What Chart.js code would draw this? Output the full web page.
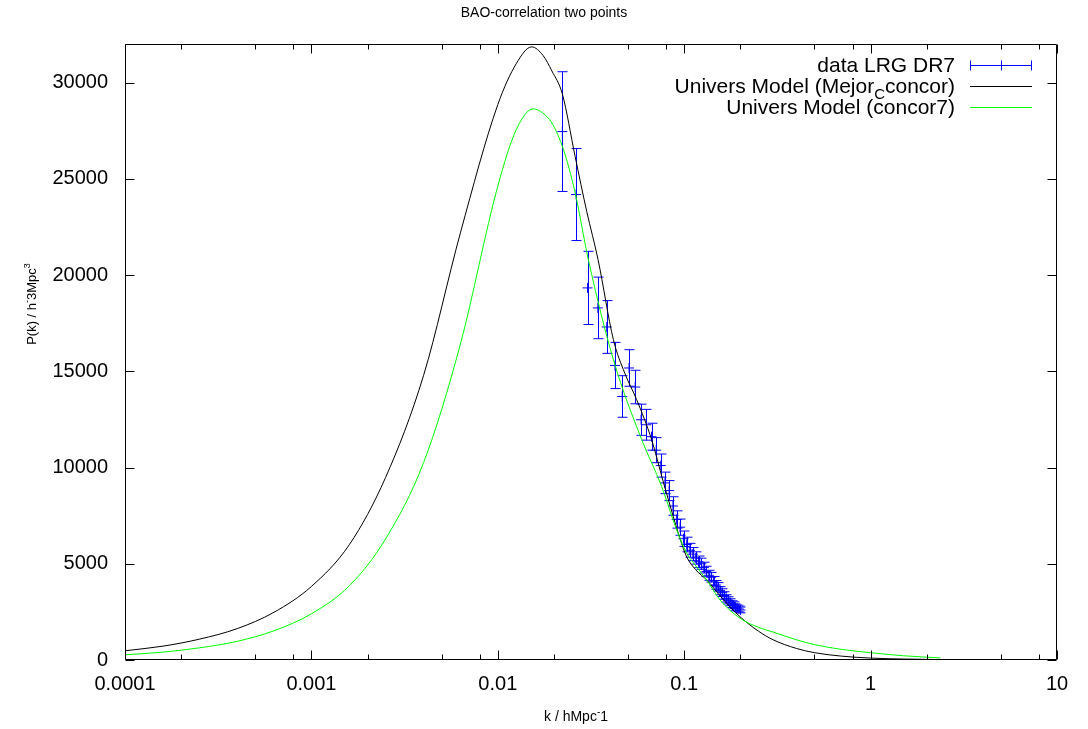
<!DOCTYPE html>
<html>
<head>
<meta charset="utf-8">
<title>BAO-correlation two points</title>
<script src="https://cdn.jsdelivr.net/npm/chart.js@4.4.1/dist/chart.umd.min.js"></script>
<style>
  html, body { margin: 0; padding: 0; background: #fff; }
  #wrap { width: 1088px; height: 729px; }
</style>
</head>
<body>
<div id="wrap"><canvas id="pk" width="1088" height="729"></canvas></div>
<script>
// LRG DR7 band powers (k, P, sigma)
const lrgK = [0.0222, 0.0263, 0.0303, 0.0344, 0.0384, 0.0425, 0.0465, 0.0506, 0.0546, 0.0587,
              0.0627, 0.0668, 0.0708, 0.0749, 0.0789, 0.0830, 0.0870, 0.0911, 0.0951, 0.0992,
              0.1032, 0.1073, 0.1113, 0.1154, 0.1194, 0.1235, 0.1275, 0.1316, 0.1356, 0.1397,
              0.1437, 0.1478, 0.1518, 0.1559, 0.1599, 0.1640, 0.1680, 0.1721, 0.1761, 0.1802,
              0.1842, 0.1883, 0.1923, 0.1964, 0.2004];
const lrgP = [27450, 24180, 19330, 18290, 17300, 15300, 13690, 15170, 14180, 12480,
              12220, 11600, 10900, 10100, 9200, 8800, 8000, 7300, 6900, 6300,
              6000, 5700, 5500, 5300, 5100, 5000, 4800, 4600, 4400, 4300,
              4100, 3900, 3800, 3600, 3500, 3350, 3200, 3100, 3000, 2900,
              2850, 2750, 2700, 2650, 2600];
const lrgErr = [3110, 2390, 1900, 1600, 1370, 1200, 1080, 950, 870, 810,
                800, 700, 650, 600, 560, 520, 480, 450, 420, 400,
                380, 360, 340, 320, 300, 290, 280, 270, 260, 250,
                240, 230, 220, 210, 200, 195, 190, 185, 180, 175,
                170, 165, 160, 155, 150];

// Univers Model (Mejor_C concor)
const mejorK = [0.0001, 0.00016, 0.00025, 0.0004, 0.00063, 0.001, 0.0016, 0.0025, 0.004, 0.0063,
                0.01, 0.0126, 0.0152, 0.0175, 0.0195, 0.0222, 0.026, 0.030, 0.0345, 0.0417,
                0.048, 0.0556, 0.0669, 0.077, 0.0874, 0.095, 0.1031, 0.115, 0.132, 0.16,
                0.1993, 0.25, 0.3, 0.4, 0.5, 0.7, 1, 1.5, 2.4];
const mejorP = [480, 720, 1080, 1630, 2480, 3820, 6000, 9480, 14790, 22190,
                28850, 31000, 31850, 31400, 30600, 29400, 26150, 23300, 20800, 16640,
                14900, 13520, 11440, 9300, 7450, 6300, 5360, 4700, 4160, 3200,
                2250, 1500, 1050, 600, 380, 200, 100, 50, 20];

// Univers Model (concor7)
const concorK = [0.0001, 0.00016, 0.00025, 0.0004, 0.00063, 0.001, 0.0016, 0.0025, 0.004, 0.0063,
                 0.01, 0.0126, 0.0155, 0.0175, 0.0195, 0.0225, 0.026, 0.0306, 0.0417, 0.0592,
                 0.0757, 0.0911, 0.1031, 0.1143, 0.132, 0.1556, 0.1993, 0.25, 0.3, 0.4,
                 0.5, 0.7, 1, 1.5, 2.37];
const concorP = [270, 410, 630, 970, 1520, 2400, 3860, 6290, 10260, 16410,
                 24620, 27580, 28630, 28400, 27900, 26520, 24270, 20800, 15600, 11440,
                 9010, 6760, 5550, 4940, 4160, 3120, 2170, 1700, 1450, 1050,
                 800, 550, 380, 220, 110];

const xTicks = [0.0001, 0.001, 0.01, 0.1, 1, 10];
const xMinorSteps = [2, 5, 8];
const yTicks = [0, 5000, 10000, 15000, 20000, 25000, 30000];

const FONT = '"Liberation Sans", Arial, Helvetica, sans-serif';

function pairs(xs, ys) {
    return xs.map((x, i) => ({ x: x, y: ys[i] }));
}

// text runs with super/subscripts
function richWidth(ctx, parts) {
    let w = 0;
    for (const p of parts) {
        ctx.font = p.size + "px " + FONT;
        w += ctx.measureText(p.t).width;
    }
    return w;
}
function drawRich(ctx, parts, x, y) {
    let cx = x;
    for (const p of parts) {
        ctx.font = p.size + "px " + FONT;
        ctx.fillText(p.t, cx, y + (p.dy || 0));
        cx += ctx.measureText(p.t).width;
    }
}

const framePlugin = {
    id: "gnuFrame",
    beforeDatasetsDraw(chart) {
        const { ctx, chartArea: a, scales } = chart;
        const xs = scales.x, ys = scales.y;
        ctx.save();
        ctx.beginPath();
        ctx.rect(a.left, a.top, a.right - a.left, a.bottom - a.top);
        ctx.clip();
        ctx.strokeStyle = "#0000ff";
        ctx.lineWidth = 1;
        const cap = 5;
        for (let i = 0; i < lrgK.length; i++) {
            const px = Math.round(xs.getPixelForValue(lrgK[i])) + 0.5;
            const top = ys.getPixelForValue(lrgP[i] + lrgErr[i]);
            const bot = ys.getPixelForValue(lrgP[i] - lrgErr[i]);
            ctx.beginPath();
            ctx.moveTo(px, top);
            ctx.lineTo(px, bot);
            ctx.moveTo(px - cap, top);
            ctx.lineTo(px + cap, top);
            ctx.moveTo(px - cap, bot);
            ctx.lineTo(px + cap, bot);
            ctx.stroke();
        }
        ctx.restore();
    },
    afterDatasetsDraw(chart) {
        const { ctx, chartArea: a, scales } = chart;
        const xs = scales.x, ys = scales.y;
        ctx.save();
        ctx.strokeStyle = "#000";
        ctx.lineWidth = 1;
        const L = Math.round(a.left) + 0.5, R = Math.round(a.right) - 0.5;
        const T = Math.round(a.top) + 0.5, B = Math.round(a.bottom) - 0.5;
        ctx.beginPath();
        ctx.rect(L, T, R - L, B - T);
        // x ticks, inward on bottom and top
        for (let d = 0; d < xTicks.length; d++) {
            const px = Math.round(xs.getPixelForValue(xTicks[d])) + 0.5;
            ctx.moveTo(px, B); ctx.lineTo(px, B - 9);
            ctx.moveTo(px, T); ctx.lineTo(px, T + 9);
            if (d < xTicks.length - 1) {
                for (const m of xMinorSteps) {
                    const mx = Math.round(xs.getPixelForValue(xTicks[d] * m)) + 0.5;
                    ctx.moveTo(mx, B); ctx.lineTo(mx, B - 5);
                    ctx.moveTo(mx, T); ctx.lineTo(mx, T + 5);
                }
            }
        }
        // y ticks, inward on left and right
        for (const v of yTicks) {
            const py = Math.round(ys.getPixelForValue(v)) + 0.5;
            ctx.moveTo(L, py); ctx.lineTo(L + 9, py);
            ctx.moveTo(R, py); ctx.lineTo(R - 9, py);
        }
        ctx.stroke();

        // title and axis labels
        ctx.fillStyle = "#000";
        ctx.textBaseline = "alphabetic";
        ctx.textAlign = "left";
        const title = [{ t: "BAO-correlation two points", size: 14 }];
        drawRich(ctx, title, 544 - richWidth(ctx, title) / 2, 17);

        const xl = [
            { t: "k / hMpc", size: 14 },
            { t: "-", size: 10, dy: -6 },
            { t: "1", size: 14 }
        ];
        drawRich(ctx, xl, (a.left + a.right) / 2 - 15 - richWidth(ctx, xl) / 2, 721);

        const yl = [
            { t: "P(k) / h", size: 13 },
            { t: "-", size: 9, dy: -6 },
            { t: "3Mpc", size: 13 },
            { t: "3", size: 9, dy: -6 }
        ];
        ctx.save();
        ctx.translate(36, 304);
        ctx.rotate(-Math.PI / 2);
        drawRich(ctx, yl, -richWidth(ctx, yl) / 2, 0);
        ctx.restore();

        // key, top right
        const textRight = 955, s0 = 970, s1 = 1032;
        const rows = [
            { y: 65, parts: [{ t: "data LRG DR7", size: 21 }], color: "#0000ff", bars: true },
            { y: 86, parts: [
                { t: "Univers Model (Mejor", size: 21 },
                { t: "C", size: 15, dy: 6 },
                { t: "concor)", size: 21 }], color: "#000000" },
            { y: 107, parts: [{ t: "Univers Model (concor7)", size: 21 }], color: "#00ff00" }
        ];
        for (const r of rows) {
            ctx.fillStyle = "#000";
            drawRich(ctx, r.parts, textRight - richWidth(ctx, r.parts), r.y + 7);
            ctx.strokeStyle = r.color;
            ctx.lineWidth = 1;
            const yy = r.y + 0.5;
            ctx.beginPath();
            ctx.moveTo(s0, yy); ctx.lineTo(s1, yy);
            if (r.bars) {
                ctx.moveTo(s0 + 0.5, yy - 5); ctx.lineTo(s0 + 0.5, yy + 5);
                ctx.moveTo(s1 - 0.5, yy - 5); ctx.lineTo(s1 - 0.5, yy + 5);
                const mid = Math.round((s0 + s1) / 2) + 0.5;
                ctx.moveTo(mid, yy - 5); ctx.lineTo(mid, yy + 5);
            }
            ctx.stroke();
        }
        ctx.restore();
    }
};

new Chart(document.getElementById("pk").getContext("2d"), {
    type: "scatter",
    data: {
        datasets: [
            {
                label: "Univers Model (concor7)",
                data: pairs(concorK, concorP),
                showLine: true,
                borderColor: "#00ff00",
                borderWidth: 1,
                pointRadius: 0,
                cubicInterpolationMode: "monotone",
                order: 0
            },
            {
                label: "Univers Model (Mejor_Cconcor)",
                data: pairs(mejorK, mejorP),
                showLine: true,
                borderColor: "#000000",
                borderWidth: 1,
                pointRadius: 0,
                cubicInterpolationMode: "monotone",
                order: 1
            },
            {
                label: "data LRG DR7",
                data: pairs(lrgK, lrgP),
                showLine: false,
                pointStyle: "cross",
                pointRadius: 5,
                borderColor: "#0000ff",
                backgroundColor: "#0000ff",
                borderWidth: 1,
                order: 2
            }
        ]
    },
    options: {
        responsive: false,
        animation: false,
        events: [],
        layout: { padding: { top: 44, right: 31, left: 0, bottom: 0 } },
        plugins: {
            legend: { display: false },
            tooltip: { enabled: false },
            title: { display: false }
        },
        scales: {
            x: {
                type: "logarithmic",
                min: 0.0001,
                max: 10,
                grid: { display: false, drawTicks: false },
                border: { display: false },
                afterBuildTicks: (scale) => { scale.ticks = xTicks.map(v => ({ value: v })); },
                afterFit: (scale) => { scale.height = 69; },
                ticks: {
                    autoSkip: false,
                    maxRotation: 0,
                    padding: 12,
                    color: "#000",
                    font: { family: FONT, size: 20 },
                    callback: (v) => String(v)
                }
            },
            y: {
                type: "linear",
                min: 0,
                max: 32000,
                grid: { display: false, drawTicks: false },
                border: { display: false },
                afterBuildTicks: (scale) => { scale.ticks = yTicks.map(v => ({ value: v })); },
                afterFit: (scale) => { scale.width = 125; },
                ticks: {
                    padding: 17,
                    color: "#000",
                    font: { family: FONT, size: 20 },
                    callback: (v) => String(v)
                }
            }
        }
    },
    plugins: [framePlugin]
});
</script>
</body>
</html>
